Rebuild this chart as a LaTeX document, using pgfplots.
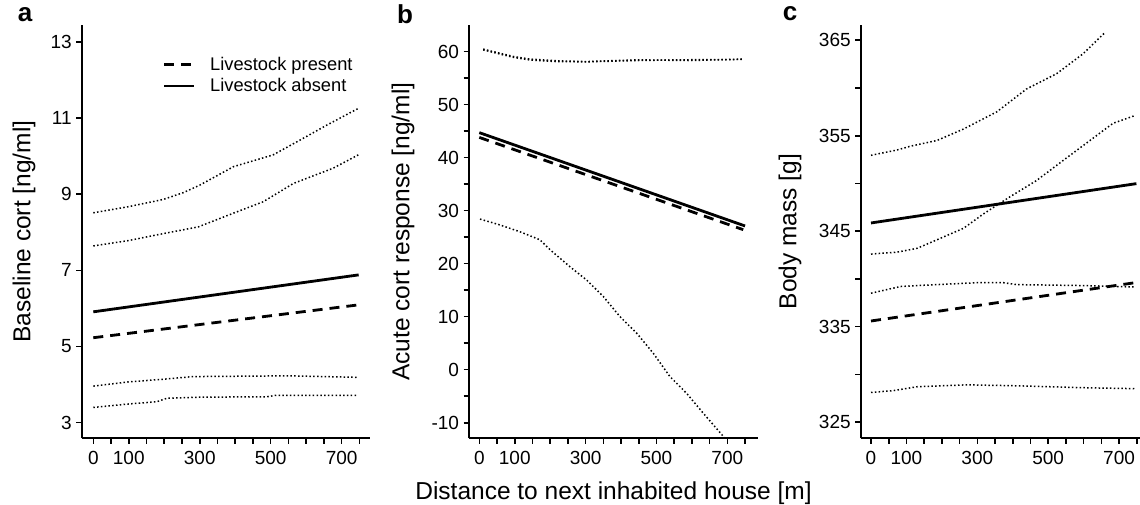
\documentclass[border=0pt]{standalone}
\usepackage{fontspec}
\setmainfont{Liberation Sans}
\usepackage{pgfplots}
\pgfplotsset{compat=1.18}
\pgfplotsset{
  panel/.style={
    scale only axis, axis lines=left, axis line style={-, line width=1.6pt},
    enlargelimits=false, clip=true,
    tick align=outside, major tick length=5.5pt, tick style={line width=1.6pt, black},
    xtick={0,50,...,750}, xticklabels={0,,100,,,,300,,,,500,,,,700,},
    ticklabel style={font=\fontsize{19}{19}\selectfont},
    xticklabel style={yshift=-4pt},
    yticklabel style={xshift=-1pt},
    label style={font=\fontsize{24.5}{24.5}\selectfont},
    xlabel style={at={(axis description cs:0.5,0)}, anchor=base, yshift=-61.7pt},
    height=413.3pt,
  },
  ci/.style={line width=1.5pt, dash pattern=on 1.5pt off 2.3pt, black},
  fit/.style={line width=2.8pt, black},
  fitd/.style={line width=2.8pt, black, dash pattern=on 10pt off 7pt},
}
\begin{document}
\begin{tikzpicture}
\path[use as bounding box] (0pt,0pt) rectangle (1140pt,505pt);
% ---------- panel a ----------
\begin{axis}[panel, at={(81.7pt,66.7pt)}, anchor=south west, width=288.3pt,
  xmin=-32.7, xmax=780, ymin=2.59, ymax=13.44,
  ytick={3,5,...,13}, yticklabels={3,5,7,9,11,13},
  ylabel={Baseline cort [ng/ml]},
  ylabel style={at={(axis description cs:0,0.5)}, anchor=center, yshift=57.7pt},
  legend style={draw=none, fill=none, at={(0.27,0.933)}, anchor=north west,
    font=\fontsize{18.3}{18.3}\selectfont, row sep=3pt},
  legend cell align=left,
  legend image code/.code={\draw[#1] (0pt,0pt) -- (30pt,0pt); \path[draw=none] (0pt,0pt) -- (44pt,0pt);},
]
\addplot[fitd] coordinates {(0,5.23) (745,6.09)};
\addplot[fit] coordinates {(0,5.91) (748,6.88)};
\legend{Livestock present, Livestock absent}
\addplot[ci, forget plot] coordinates {(0,8.51) (99,8.67) (197,8.86) (254,9.04) (301,9.24) (395,9.72) (507,10.03) (583,10.42) (658,10.81) (747,11.25)};
\addplot[ci, forget plot] coordinates {(0,7.64) (99,7.78) (179,7.93) (296,8.14) (395,8.50) (479,8.80) (564,9.28) (676,9.68) (747,10.03)};
\addplot[ci, forget plot] coordinates {(0,3.96) (99,4.07) (197,4.14) (281,4.21) (554,4.23) (747,4.19)};
\addplot[ci, forget plot] coordinates {(0,3.40) (99,3.49) (179,3.55) (207,3.64) (300,3.67) (489,3.68) (516,3.72) (747,3.72)};
\end{axis}
% ---------- panel b ----------
\begin{axis}[panel, at={(469pt,66.7pt)}, anchor=south west, width=289pt,
  xmin=-29.1, xmax=786.6, ymin=-12.94, ymax=65,
  ytick={-10,-5,...,60}, yticklabels={-10,,0,,10,,20,,30,,40,,50,,60},
  ylabel={Acute cort response [ng/ml]},
  ylabel style={at={(axis description cs:0,0.5)}, anchor=center, yshift=66pt},
  xlabel={Distance to next inhabited house [m]},
]
\addplot[ci] coordinates {(11,60.45) (96,59.06) (143,58.57) (218,58.25) (303,58.1) (444,58.43) (595,58.3) (745,58.57)};
\addplot[ci] coordinates {(11,60.3) (96,58.9) (143,58.4) (218,58.1) (303,58.05) (444,58.3) (595,58.45) (745,58.5)};
\addplot[fit] coordinates {(0,44.7) (750,27.1)};
\addplot[fitd] coordinates {(0,43.8) (745,26.4)};
\addplot[ci] coordinates {(2,28.4) (58,27.3) (115,26.0) (171,24.5) (200,22.6) (256,19.4) (303,16.9) (350,13.8) (397,10.0) (444,6.9) (491,3.1) (538,-1.3) (585,-4.45) (632,-8.2) (689,-12.6) (700,-13.5)};
\end{axis}
% ---------- panel c ----------
\begin{axis}[panel, at={(860.7pt,66.7pt)}, anchor=south west, width=279.3pt,
  xmin=-29.1, xmax=759.2, ymin=323.3, ymax=366.6,
  ytick={325,330,...,365}, yticklabels={325,,335,,345,,355,,365},
  ylabel={Body mass [g]},
  ylabel style={at={(axis description cs:0,0.5)}, anchor=center, yshift=70.7pt},
]
\addplot[ci] coordinates {(0,352.95) (73,353.5) (111,353.9) (186,354.5) (261,355.7) (355,357.5) (439,359.9) (524,361.5) (599,363.6) (660,365.8)};
\addplot[ci] coordinates {(0,342.6) (73,342.8) (130,343.2) (205,344.4) (261,345.3) (317,346.8) (392,348.6) (467,350.3) (542,352.4) (618,354.5) (683,356.3) (744,357.1)};
\addplot[fit] coordinates {(0,345.86) (749,349.98)};
\addplot[fitd] coordinates {(0,335.59) (745,339.6)};
\addplot[ci] coordinates {(0,338.5) (83,339.2) (130,339.3) (298,339.6) (374,339.6) (411,339.4) (599,339.3) (744,339.15)};
\addplot[ci] coordinates {(0,328.1) (64,328.3) (130,328.7) (270,328.9) (411,328.8) (505,328.7) (599,328.6) (744,328.5)};
\end{axis}
% panel letters
\node[anchor=base, font=\fontsize{26}{26}\selectfont\bfseries] at (25pt,483pt) {a};
\node[anchor=base, font=\fontsize{26}{26}\selectfont\bfseries] at (405pt,481pt) {b};
\node[anchor=base, font=\fontsize{26}{26}\selectfont\bfseries] at (790pt,484pt) {c};
\end{tikzpicture}
\end{document}
